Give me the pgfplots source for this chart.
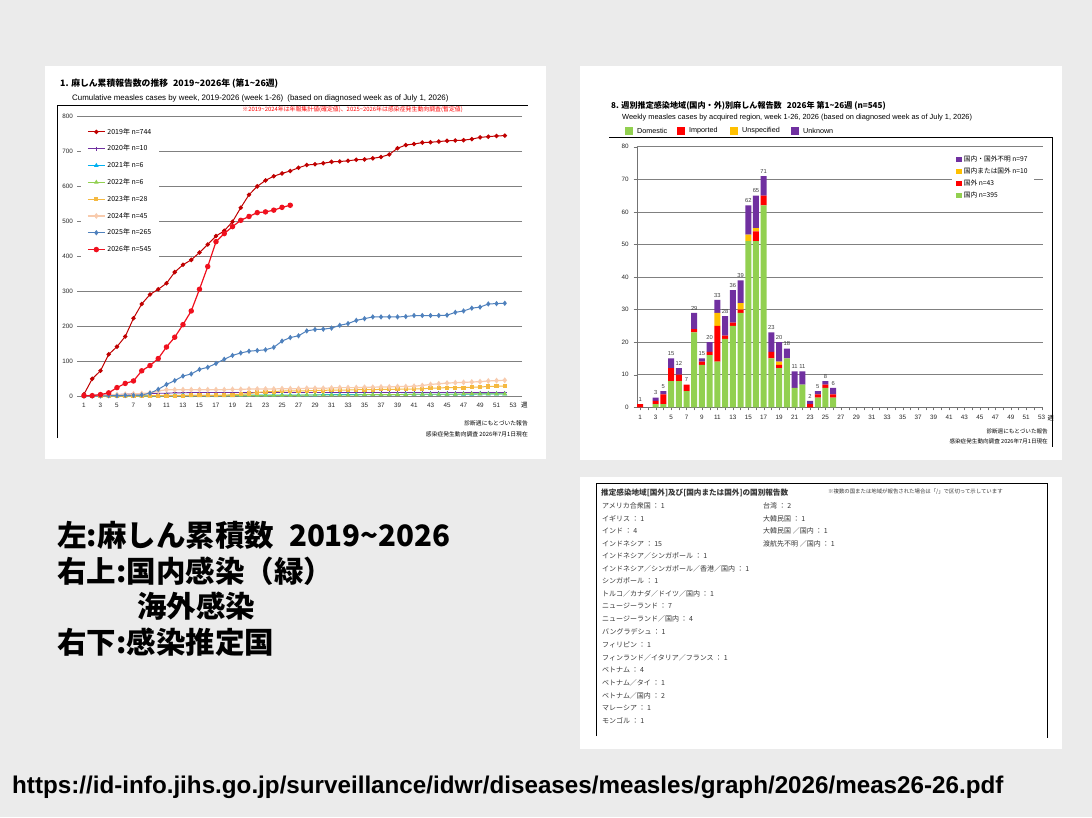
\documentclass[border=0pt]{standalone}
\usepackage{pgfplots}
\pgfplotsset{compat=1.18}
\usepackage{pgfplotstable}
\usepackage{fontspec}
\setmainfont{Liberation Sans}
\newfontfamily\jp{Noto Sans CJK JP}
\newcommand{\tl}{\textasciitilde}
\definecolor{bg}{HTML}{EBEBEB}
\definecolor{c2019}{HTML}{C00000}
\definecolor{c2020}{HTML}{7030A0}
\definecolor{c2021}{HTML}{00B0F0}
\definecolor{c2022}{HTML}{92D050}
\definecolor{c2023}{HTML}{F5B941}
\definecolor{c2024}{HTML}{F8CBAD}
\definecolor{c2025}{HTML}{4F81BD}
\definecolor{c2026}{HTML}{F0101E}
\definecolor{cDom}{HTML}{92D050}
\definecolor{cImp}{HTML}{FF0000}
\definecolor{cUns}{HTML}{FFC000}
\definecolor{cUnk}{HTML}{7030A0}

\pgfplotstableread{
w a2019 a2020 a2021 a2022 a2023 a2024 a2025
1 5 1 0 0 0 0 0
2 49 2 0 0 0 1 0
3 72 3 0 0 0 2 0
4 119 3 1 0 0 3 1
5 141 4 1 0 0 4 1
6 170 5 1 0 0 5 2
7 222 6 1 0 0 6 2
8 263 6 1 0 0 7 3
9 290 7 1 0 1 9 8
10 305 8 1 0 1 14 19
11 322 8 2 1 1 18 33
12 354 9 2 1 1 18 44
13 375 9 2 1 1 18 57
14 389 10 2 1 2 18 63
15 410 10 2 1 2 18 76
16 433 10 2 1 2 18 82
17 457 10 2 1 2 18 93
18 472 10 2 1 2 18 105
19 498 10 2 1 4 19 116
20 538 10 3 2 5 19 123
21 575 10 3 2 7 20 128
22 599 10 3 2 10 20 130
23 616 10 3 2 12 20 132
24 628 10 3 2 13 20 139
25 636 10 3 2 14 21 157
26 643 10 3 2 15 21 167
27 652 10 3 2 15 21 172
28 660 10 3 3 15 22 186
29 662 10 3 3 16 22 190
30 665 10 4 3 16 22 191
31 669 10 4 3 17 23 194
32 670 10 4 3 17 24 202
33 672 10 4 3 17 24 207
34 675 10 4 3 18 24 216
35 676 10 4 4 18 25 221
36 679 10 4 4 18 25 226
37 683 10 4 4 19 26 226
38 690 10 4 4 19 26 226
39 708 10 4 4 19 27 226
40 717 10 5 4 20 27 227
41 720 10 5 5 20 28 230
42 724 10 5 5 21 30 230
43 725 10 5 5 22 33 230
44 727 10 5 5 23 35 230
45 729 10 5 5 24 37 231
46 730 10 5 5 24 38 239
47 731 10 5 6 24 39 243
48 734 10 5 6 25 40 251
49 739 10 6 6 26 41 254
50 741 10 6 6 27 43 263
51 743 10 6 6 28 44 264
52 744 10 6 6 28 45 265
}\cumA

\pgfplotstableread{
w a2026
1 1
2 1
3 4
4 9
5 24
6 36
7 43
8 72
9 87
10 107
11 140
12 168
13 204
14 243
15 305
16 370
17 441
18 464
19 484
20 502
21 513
22 524
23 526
24 531
25 539
26 545
}\cumB

\pgfplotstableread{
w dom imp uns unk tot
1 0 1 0 0 1
3 1 1 0 1 3
4 1 3 0 1 5
5 8 4 0 3 15
6 8 2 0 2 12
7 5 2 0 0 7
8 23 1 0 5 29
9 13 1 0 1 15
10 16 1 0 3 20
11 14 11 4 4 33
12 21 1 0 6 28
13 25 1 0 10 36
14 29 1 2 7 39
15 51 0 2 9 62
16 51 3 1 10 65
17 62 3 0 6 71
18 15 2 0 6 23
19 12 1 1 6 20
20 15 0 0 3 18
21 6 0 0 5 11
22 7 0 0 4 11
23 0 1 0 1 2
24 3 1 0 1 5
25 6 1 0 1 8
26 3 1 0 2 6
}\weekly

\begin{document}
\begin{tikzpicture}[x=1pt,y=1pt,every node/.style={inner sep=0pt}]
\fill[bg] (0,0) rectangle (1092,-817);
\fill[white] (45,-66) rectangle (546,-459);
\fill[white] (580,-66) rectangle (1062,-460);
\fill[white] (580,-477) rectangle (1062,-749);
% frames
\draw[black, line width=0.9pt] (57,-438) -- (57,-105) -- (528,-105);
\draw[black, line width=0.9pt] (609,-137) -- (1052,-137) -- (1052,-447);
\draw[black, line width=0.9pt] (596,-736) -- (596,-483) -- (1047,-483) -- (1047,-738);

% ---------------- left chart texts
\node[anchor=west] at (60,-84) {\jp\bfseries\fontsize{8.8}{10}\selectfont 1. 麻しん累積報告数の推移\hspace{5pt}2019\tl 2026年 (第1\tl 26週)};
\node[anchor=west] at (72,-98) {\fontsize{7.9}{8}\selectfont Cumulative measles cases by week, 2019-2026 (week 1-26)\hspace{4pt}(based on diagnosed week as of July 1, 2026)};
\node[anchor=east, text=red] at (463,-110) {\jp\fontsize{5.9}{6}\selectfont ※2019\tl 2024年は年報集計値(確定値)、2025\tl 2026年は感染症発生動向調査(暫定値)};
\node[anchor=west] at (521,-405) {\jp\fontsize{6.5}{7}\selectfont 週};
\node[anchor=east] at (528,-423) {\jp\fontsize{5.8}{6}\selectfont 診断週にもとづいた報告};
\node[anchor=east] at (528,-434) {\jp\fontsize{5.8}{6}\selectfont 感染症発生動向調査 2026年7月1日現在};

\begin{axis}[
  at={(81pt,-396pt)}, anchor=south west,
  scale only axis, width=437pt, height=280pt,
  xmin=0.64, xmax=53.6, ymin=0, ymax=800,
  clip=false,
  axis line style={draw=none},
  ymajorgrids, grid style={draw=black!50, line width=0.5pt},
  ytick={0,100,...,800}, xtick={1,3,...,53},
  ytick style={draw=black!50}, xtick style={draw=none},
  tick align=outside, major tick length=4pt,
  tick label style={font=\fontsize{6.3}{7}\selectfont, text=black!85},
  yticklabel style={xshift=-4pt},
  xticklabel style={yshift=-3pt},
  /pgf/number format/assume math mode=true,
  legend cell align=left,
  legend style={at={(axis description cs:0,0.975)}, anchor=north west, draw=none, fill=white,
    font=\jp\fontsize{7}{7}\selectfont, row sep=5.4pt, inner xsep=6pt, inner ysep=3pt},
]
\addplot[c2019, line width=1pt, mark=*, mark size=1.7pt] table[x=w,y=a2019]{\cumA};
\addlegendentry{2019年 n=744}
\addplot[c2020, line width=0.9pt, mark=+, mark size=2pt] table[x=w,y=a2020]{\cumA};
\addlegendentry{2020年 n=10}
\addplot[c2021, line width=0.9pt, mark=triangle*, mark size=1.8pt] table[x=w,y=a2021]{\cumA};
\addlegendentry{2021年 n=6}
\addplot[c2022, line width=0.9pt, mark=triangle*, mark size=1.8pt] table[x=w,y=a2022]{\cumA};
\addlegendentry{2022年 n=6}
\addplot[c2023, line width=1pt, mark=square*, mark size=1.6pt] table[x=w,y=a2023]{\cumA};
\addlegendentry{2023年 n=28}
\addplot[c2024, line width=1.2pt, mark=diamond*, mark size=2pt] table[x=w,y=a2024]{\cumA};
\addlegendentry{2024年 n=45}
\addplot[c2025, line width=1pt, mark=diamond*, mark size=1.9pt] table[x=w,y=a2025]{\cumA};
\addlegendentry{2025年 n=265}
\addplot[c2026, line width=1.2pt, mark=*, mark size=2.1pt] table[x=w,y=a2026]{\cumB};
\addlegendentry{2026年 n=545}
\end{axis}

% ---------------- right bar chart texts
\node[anchor=west] at (611,-106) {\jp\bfseries\fontsize{8.1}{9}\selectfont 8. 週別推定感染地域(国内・外)別麻しん報告数\hspace{5pt}2026年 第1\tl 26週 (n=545)};
\node[anchor=west] at (622,-118) {\fontsize{7.4}{8}\selectfont Weekly measles cases by acquired region, week 1-26, 2026 (based on diagnosed week as of July 1, 2026)};
\fill[cDom] (625,-127) rectangle (633,-135);
\node[anchor=west] at (637,-131) {\fontsize{7.2}{8}\selectfont Domestic};
\fill[cImp] (677,-127) rectangle (685,-135);
\node[anchor=west] at (689,-131) {\fontsize{7.2}{8}\selectfont Imported};
\fill[cUns] (730,-127) rectangle (738,-135);
\node[anchor=west] at (742,-131) {\fontsize{7.2}{8}\selectfont Unspecified};
\fill[cUnk] (791,-127) rectangle (799,-135);
\node[anchor=west] at (803,-131) {\fontsize{7.2}{8}\selectfont Unknown};
\node[anchor=west] at (1047.5,-418) {\jp\fontsize{6.3}{7}\selectfont 週};
\node[anchor=east] at (1048,-431) {\jp\fontsize{5.6}{6}\selectfont 診断週にもとづいた報告};
\node[anchor=east] at (1048,-441) {\jp\fontsize{5.6}{6}\selectfont 感染症発生動向調査 2026年7月1日現在};

\begin{axis}[
  at={(636.7pt,-407.3pt)}, anchor=south west,
  scale only axis, width=406.5pt, height=260.6pt,
  xmin=0.55, xmax=53.2, ymin=0, ymax=80,
  ybar stacked, bar width=6pt,
  clip=false,
  axis x line*=bottom, axis y line*=left,
  axis line style={draw=black!55},
  ymajorgrids, grid style={draw=black!50, line width=0.5pt},
  ytick={0,10,...,80}, xtick={1,3,...,53}, minor xtick={2,4,...,52},
  tick style={draw=black!55}, tick align=outside, major tick length=3pt, minor tick length=3pt,
  tick label style={font=\fontsize{6.3}{7}\selectfont, text=black!85},
  xticklabel style={yshift=-5pt},
  yticklabel style={xshift=-5pt},
  /pgf/number format/assume math mode=true,
  reverse legend, legend cell align=left,
  legend image code/.code={\fill[#1,draw=none] (0pt,-2.8pt) rectangle (5.6pt,2.8pt);},
  legend style={at={(axis description cs:0.776,0.985)}, anchor=north west, draw=none, fill=white,
    font=\jp\fontsize{6.7}{7}\selectfont, row sep=0.9pt, inner xsep=4pt, inner ysep=3pt},
]
\addplot[fill=cDom, draw=none] table[x=w,y=dom]{\weekly};
\addlegendentry{国内 n=395}
\addplot[fill=cImp, draw=none] table[x=w,y=imp]{\weekly};
\addlegendentry{国外 n=43}
\addplot[fill=cUns, draw=none] table[x=w,y=uns]{\weekly};
\addlegendentry{国内または国外 n=10}
\addplot[fill=cUnk, draw=none] table[x=w,y=unk]{\weekly};
\addlegendentry{国内・国外不明 n=97}
\end{axis}
% overlay axis for weekly totals above bars
\begin{axis}[
  at={(636.7pt,-407.3pt)}, anchor=south west,
  scale only axis, width=406.5pt, height=260.6pt,
  xmin=0.55, xmax=53.2, ymin=0, ymax=80,
  hide axis, clip=false,
  /pgf/number format/assume math mode=true,
]
\addplot[draw=none, mark=none, point meta=explicit, nodes near coords,
  nodes near coords style={font=\fontsize{5.8}{6}\selectfont, text=black!75, inner sep=2.5pt, anchor=south}]
  table[x=w,y=tot,meta=tot]{\weekly};
\end{axis}

% ---------------- bottom right panel
\begin{scope}[every node/.style={anchor=west, inner sep=0pt, text=black!78, font=\jp\fontsize{7}{7}\selectfont}]
\node[font=\jp\bfseries\fontsize{7.6}{8}\selectfont] at (601,-493) {推定感染地域[国外]及び[国内または国外]の国別報告数};
\node[font=\jp\fontsize{5.4}{6}\selectfont] at (828,-492) {※複数の国または地域が報告された場合は「/」で区切って示しています};
\node at (602,-506) {アメリカ合衆国 ： 1};
\node at (602,-518.5) {イギリス ： 1};
\node at (602,-531) {インド ： 4};
\node at (602,-543.5) {インドネシア ： 15};
\node at (602,-556) {インドネシア／シンガポール ： 1};
\node at (602,-568.5) {インドネシア／シンガポール／香港／国内 ： 1};
\node at (602,-581) {シンガポール ： 1};
\node at (602,-593.5) {トルコ／カナダ／ドイツ／国内 ： 1};
\node at (602,-606) {ニュージーランド ： 7};
\node at (602,-619) {ニュージーランド／国内 ： 4};
\node at (602,-632) {バングラデシュ ： 1};
\node at (602,-645) {フィリピン ： 1};
\node at (602,-657.5) {フィンランド／イタリア／フランス ： 1};
\node at (602,-670) {ベトナム ： 4};
\node at (602,-683) {ベトナム／タイ ： 1};
\node at (602,-695.5) {ベトナム／国内 ： 2};
\node at (602,-708) {マレーシア ： 1};
\node at (602,-720.5) {モンゴル ： 1};
\node at (763,-506) {台湾 ： 2};
\node at (763,-518.5) {大韓民国 ： 1};
\node at (763,-531) {大韓民国 ／国内 ： 1};
\node at (763,-543.5) {渡航先不明 ／国内 ： 1};
\end{scope}

% ---------------- left big text
\begin{scope}[every node/.style={anchor=west, inner sep=0pt, font=\jp\bfseries\fontsize{29.5}{32}\selectfont}]
\node at (57,-535) {左:麻しん累積数\hspace{15pt}2019\tl 2026};
\node at (57,-571) {右上:国内感染（緑）};
\node at (137,-606) {海外感染};
\node at (57,-642) {右下:感染推定国};
\end{scope}

\node[anchor=west, font=\bfseries\fontsize{24.2}{26}\selectfont] at (12,-787) {https://id-info.jihs.go.jp/surveillance/idwr/diseases/measles/graph/2026/meas26-26.pdf};
\end{tikzpicture}
\end{document}
